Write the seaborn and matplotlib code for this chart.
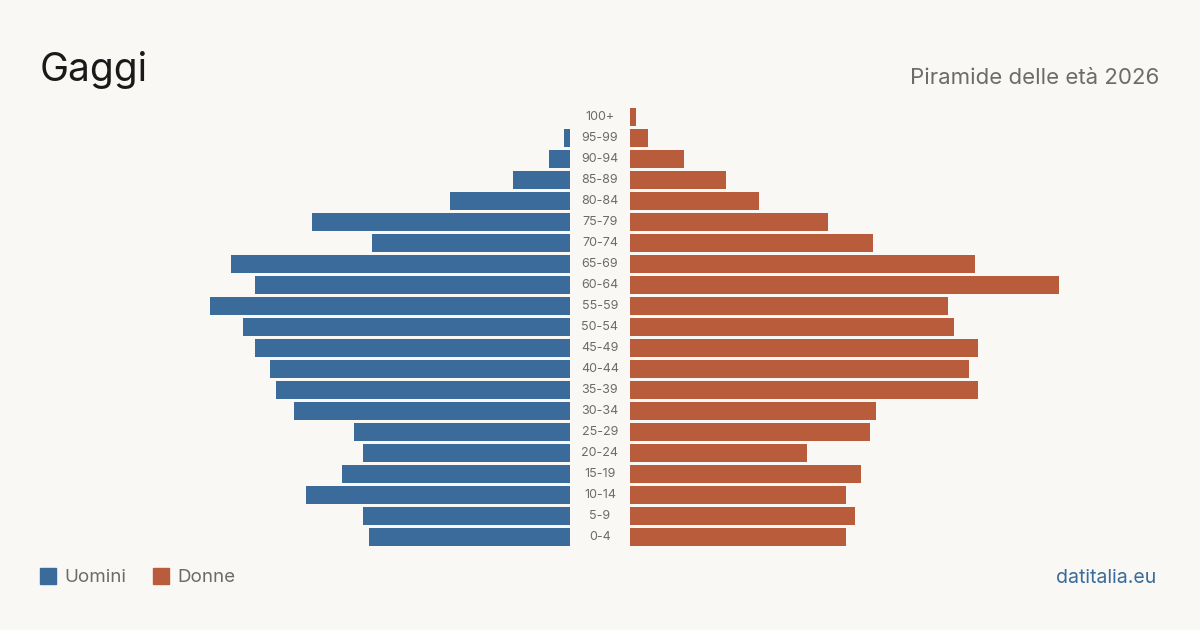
import pandas as pd
import matplotlib.pyplot as plt
import matplotlib.transforms as mtransforms
import seaborn as sns
from matplotlib.patches import Rectangle

# age groups, top to bottom
age_groups = ['100+', '95-99', '90-94', '85-89', '80-84', '75-79', '70-74', '65-69',
              '60-64', '55-59', '50-54', '45-49', '40-44', '35-39', '30-34', '25-29',
              '20-24', '15-19', '10-14', '5-9', '0-4']
uomini = [0, 2, 7, 19, 40, 86, 66, 113, 105, 120, 109, 105, 100, 98, 92, 72, 69, 76, 88, 69, 67]
donne = [2, 6, 18, 32, 43, 66, 81, 115, 143, 106, 108, 116, 113, 116, 82, 80, 59, 77, 72, 75, 72]

BLUE = '#3b6b9b'
ORANGE = '#b85c3c'
BG = '#f9f8f4'
GREY = '#6b6b6b'

df = pd.DataFrame({'age': age_groups, 'uomini': uomini, 'donne': donne})

sns.set_style('white')
plt.rcParams['font.family'] = ['Inter', 'DejaVu Sans']

fig = plt.figure(figsize=(12, 6.3), dpi=100, facecolor=BG)

bottom = 1 - 547.5 / 630
height = 441 / 630
ax_l = fig.add_axes([150 / 1200, bottom, 420 / 1200, height])
ax_r = fig.add_axes([630 / 1200, bottom, 460 / 1200, height])

sns.barplot(data=df, y='age', x='uomini', color=BLUE, width=0.82, saturation=1,
            linewidth=0, ax=ax_l)
sns.barplot(data=df, y='age', x='donne', color=ORANGE, width=0.82, saturation=1,
            linewidth=0, ax=ax_r)

ax_l.set_xlim(140, 0)
ax_r.set_xlim(0, 460 / 3)
for ax in (ax_l, ax_r):
    ax.set_ylim(len(age_groups) - 0.5, -0.5)
    ax.set_facecolor(BG)
    ax.axis('off')

# age labels in the middle gap
trans = mtransforms.blended_transform_factory(fig.transFigure, ax_r.transData)
for i, lab in enumerate(age_groups):
    fig.text(600 / 1200, i, lab, transform=trans, ha='center', va='center',
             fontsize=9, color=GREY)

fig.text(40 / 1200, 1 - 81 / 630, 'Gaggi', fontsize=28, color='#1a1a1a', ha='left', va='baseline')
fig.text(1159 / 1200, 1 - 84 / 630, 'Piramide delle età 2026', fontsize=16, color=GREY,
         ha='right', va='baseline')

# legend
fig.patches.append(Rectangle((40 / 1200, 1 - 584 / 630), 16 / 1200, 16 / 630,
                             transform=fig.transFigure, color=BLUE))
fig.text(64 / 1200, 1 - 578 / 630, 'Uomini', fontsize=13.5, color=GREY, va='center')
fig.patches.append(Rectangle((153 / 1200, 1 - 584 / 630), 16 / 1200, 16 / 630,
                             transform=fig.transFigure, color=ORANGE))
fig.text(177 / 1200, 1 - 578 / 630, 'Donne', fontsize=13.5, color=GREY, va='center')

fig.text(1156 / 1200, 1 - 578 / 630, 'datitalia.eu', fontsize=14, color=BLUE, ha='right', va='center')

fig.savefig('out.png', dpi=100, facecolor=BG)
